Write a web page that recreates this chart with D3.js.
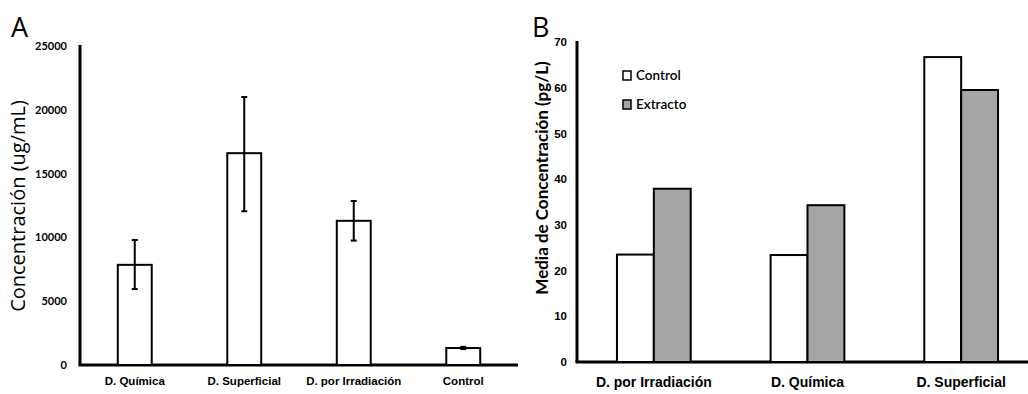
<!DOCTYPE html>
<html>
<head>
<meta charset="utf-8">
<script src="https://cdn.jsdelivr.net/npm/d3@7"></script>
<style>
  html, body { margin: 0; padding: 0; background: #fff; }
  svg { display: block; font-family: Lato, "Open Sans", sans-serif; }
</style>
</head>
<body>
<svg id="chart" width="1028" height="394"></svg>
<script>
// Panel A: concentration by treatment, with error bars
const catsA = ["D. Química", "D. Superficial", "D. por Irradiación", "Control"];
const meanA = [7850, 16600, 11300, 1330];
const lowA  = [5950, 12050, 9750, 1250];
const highA = [9800, 21000, 12850, 1420];
const ticksA = [0, 5000, 10000, 15000, 20000, 25000];

// Panel B: mean concentration, control vs extract
const catsB = ["D. por Irradiación", "D. Química", "D. Superficial"];
const seriesB = ["Control", "Extracto"];
const controlB = [23.5, 23.4, 66.7];
const extractoB = [37.9, 34.3, 59.5];
const ticksB = [0, 10, 20, 30, 40, 50, 60, 70];

const svg = d3.select("#chart");

// ---------- Panel A ----------
{
  const x = d3.scaleBand().domain(catsA).range([80, 518]).paddingInner(0.69).paddingOuter(0.345);
  const y = d3.scaleLinear().domain([0, 25000]).range([365, 46]);
  const g = svg.append("g");

  g.append("text").attr("x", 11).attr("y", 37).attr("font-size", 27)
    .attr("font-family", "Open Sans, sans-serif").text("A");

  const yAxis = d3.axisLeft(y).tickValues(ticksA).tickSize(0).tickPadding(13).tickFormat(d3.format("d"));
  const ya = g.append("g").attr("transform", "translate(80,0)").call(yAxis);
  ya.select(".domain").attr("stroke", "#000").attr("stroke-width", 3).attr("d", "M0,365V45");
  ya.selectAll("text").attr("font-size", 11).attr("font-weight", "bold").attr("fill", "#000")
    .attr("font-family", "Lato, sans-serif");

  const xAxis = d3.axisBottom(x).tickSize(0).tickPadding(12);
  const xa = g.append("g").attr("transform", "translate(0,365)").call(xAxis);
  xa.select(".domain").attr("stroke", "#000").attr("stroke-width", 3).attr("d", "M78.5,0H518");
  xa.selectAll("text").attr("font-size", 11.5).attr("font-weight", "bold").attr("fill", "#000");

  g.selectAll("rect.barA").data(catsA).join("rect").attr("class", "barA")
    .attr("x", d => x(d)).attr("width", x.bandwidth())
    .attr("y", (d, i) => y(meanA[i])).attr("height", (d, i) => y(0) - y(meanA[i]))
    .attr("fill", "#fff").attr("stroke", "#000").attr("stroke-width", 2);

  const eb = g.selectAll("g.err").data(catsA).join("g").attr("class", "err")
    .attr("stroke", "#000").attr("stroke-width", 2);
  eb.append("line").attr("x1", d => x(d) + x.bandwidth() / 2).attr("x2", d => x(d) + x.bandwidth() / 2)
    .attr("y1", (d, i) => y(lowA[i])).attr("y2", (d, i) => y(highA[i]));
  eb.append("line").attr("x1", d => x(d) + x.bandwidth() / 2 - 3).attr("x2", d => x(d) + x.bandwidth() / 2 + 3)
    .attr("y1", (d, i) => y(highA[i])).attr("y2", (d, i) => y(highA[i]));
  eb.append("line").attr("x1", d => x(d) + x.bandwidth() / 2 - 3).attr("x2", d => x(d) + x.bandwidth() / 2 + 3)
    .attr("y1", (d, i) => y(lowA[i])).attr("y2", (d, i) => y(lowA[i]));

  g.append("text").attr("transform", "translate(25,206) rotate(-90)")
    .attr("text-anchor", "middle").attr("font-size", 20).attr("font-family", "Open Sans, sans-serif")
    .text("Concentración (ug/mL)");
}

// ---------- Panel B ----------
{
  const x0 = d3.scaleBand().domain(catsB).range([577, 1038]).paddingInner(0.52).paddingOuter(0.26);
  const x1 = d3.scaleBand().domain(seriesB).range([0, x0.bandwidth()]);
  const y = d3.scaleLinear().domain([0, 70]).range([362, 42]);
  const fills = { Control: "#ffffff", Extracto: "#a5a5a5" };
  const g = svg.append("g");

  g.append("text").attr("x", 532).attr("y", 37).attr("font-size", 27)
    .attr("font-family", "Open Sans, sans-serif").text("B");

  const yAxis = d3.axisLeft(y).tickValues(ticksB).tickSize(0).tickPadding(10);
  const ya = g.append("g").attr("transform", "translate(577,0)").call(yAxis);
  ya.select(".domain").attr("stroke", "#000").attr("stroke-width", 3).attr("d", "M0,362V41");
  ya.selectAll("text").attr("font-size", 11.5).attr("font-weight", "bold").attr("fill", "#000");

  const xAxis = d3.axisBottom(x0).tickSize(0).tickPadding(15);
  const xa = g.append("g").attr("transform", "translate(0,362)").call(xAxis);
  xa.select(".domain").attr("stroke", "#000").attr("stroke-width", 3).attr("d", "M575.5,0H1028");
  xa.selectAll("text").attr("font-size", 14).attr("font-weight", "bold").attr("fill", "#000");

  const rows = catsB.map((c, i) => ({ cat: c, vals: [
    { key: "Control", v: controlB[i] }, { key: "Extracto", v: extractoB[i] }] }));

  g.selectAll("g.grp").data(rows).join("g").attr("class", "grp")
    .attr("transform", d => `translate(${x0(d.cat)},0)`)
    .selectAll("rect").data(d => d.vals).join("rect")
    .attr("x", d => x1(d.key)).attr("width", x1.bandwidth())
    .attr("y", d => y(d.v)).attr("height", d => y(0) - y(d.v))
    .attr("fill", d => fills[d.key]).attr("stroke", "#000").attr("stroke-width", 2);

  const leg = g.selectAll("g.leg").data(seriesB).join("g").attr("class", "leg")
    .attr("transform", (d, i) => `translate(623,${71 + i * 29})`);
  leg.append("rect").attr("width", 8).attr("height", 9)
    .attr("fill", d => fills[d]).attr("stroke", "#000").attr("stroke-width", 1.5);
  leg.append("text").attr("x", 13).attr("y", 9).attr("font-size", 13.5).attr("font-weight", 600)
    .attr("fill", "#000").text(d => d);

  g.append("text").attr("transform", "translate(548,178) rotate(-90)")
    .attr("text-anchor", "middle").attr("font-size", 17).attr("font-weight", "bold")
    .text("Media de Concentración (pg/L)");
}
</script>
</body>
</html>
